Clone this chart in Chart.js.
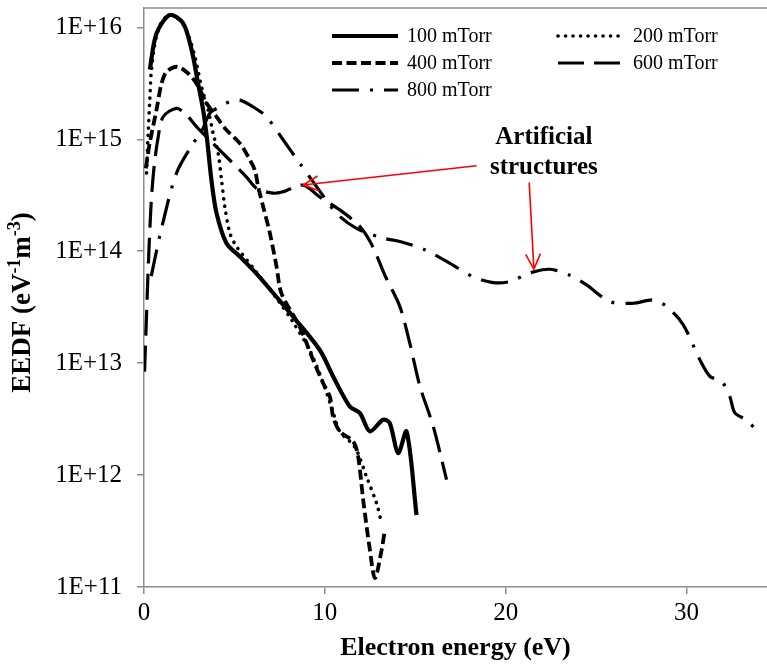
<!DOCTYPE html>
<html>
<head>
<meta charset="utf-8">
<script src="https://cdn.jsdelivr.net/npm/chart.js@4"></script>
<style>
  html, body { margin: 0; padding: 0; background: #ffffff; }
  #wrap { width: 767px; height: 666px; }
</style>
</head>
<body>
<div id="wrap"><canvas id="eedf"></canvas></div>
<script>
// EEDF vs electron energy, five pressures.
const energy100 = [0.32, 0.69, 1.43, 2.16, 2.63, 2.99, 3.27, 3.49, 3.73, 4.01, 4.56, 5.3, 6.22, 7.33, 8.25, 9.72, 10.46, 11.38, 11.94, 12.49, 13.22, 13.59, 14.05, 14.52, 15.07];
const eedf100 = [4.2e15, 8.8e15, 1.29e16, 1.09e16, 6.3e15, 3.16e15, 1.83e15, 9.9e14, 4.3e14, 2.19e14, 1.18e14, 8.96e13, 6.3e13, 3.9e13, 2.6e13, 1.31e13, 7.6e12, 4.1e12, 3.58e12, 2.46e12, 3.12e12, 2.91e12, 1.57e12, 2.45e12, 4.4e11];

const energy200 = [0.14, 0.23, 0.32, 0.41, 0.69, 1.04, 1.59, 2.26, 2.81, 3.18, 3.55, 3.82, 4.1, 4.29, 4.47, 4.75, 5.12, 6.22, 7.33, 8.23, 9.17, 9.89, 10.44, 10.83, 11.38, 11.75, 12.3, 12.86, 13.14];
const eedf200 = [5.0e14, 1.13e15, 2.24e15, 4.16e15, 8.4e15, 1.16e16, 1.29e16, 1.01e16, 5.5e15, 2.95e15, 1.83e15, 1.13e15, 7.5e14, 4.3e14, 2.5e14, 1.45e14, 1.1e14, 6.5e13, 3.8e13, 2.34e13, 1.3e13, 6.8e12, 3.7e12, 2.45e12, 2.0e12, 1.68e12, 9.7e11, 5.6e11, 3.7e11];

const energy400 = [0.1, 0.32, 0.69, 0.97, 1.24, 1.8, 2.35, 2.9, 3.46, 4.01, 4.56, 5.3, 5.76, 6.13, 6.31, 6.59, 6.96, 7.33, 7.6, 8.62, 9.35, 9.91, 10.28, 10.46, 10.83, 11.57, 11.84, 12.12, 12.49, 12.77, 13.14, 13.32];
const eedf400 = [5.5e14, 9.3e14, 1.83e15, 3.16e15, 4.0e15, 4.45e15, 4.0e15, 3.16e15, 2.1e15, 1.59e15, 1.21e15, 9.2e14, 7.0e14, 5.3e14, 3.78e14, 2.5e14, 1.45e14, 7.3e13, 4.2e13, 2.1e13, 1.07e13, 6.6e12, 5.0e12, 3.3e12, 2.45e12, 2.0e12, 1.47e12, 6.0e11, 2.15e11, 1.2e11, 2.15e11, 3.25e11];

const energy600 = [0.03, 0.14, 0.25, 0.39, 0.54, 0.76, 1.06, 1.8, 2.35, 2.9, 3.82, 4.75, 5.67, 6.22, 7.14, 7.69, 8.8, 9.72, 10.83, 11.94, 12.6, 13.32, 14.15, 14.7, 15.26, 16.0, 16.73];
const eedf600 = [8.4e12, 2.7e13, 8.3e13, 2.6e14, 5.3e14, 9.9e14, 1.59e15, 1.89e15, 1.65e15, 1.3e15, 9.2e14, 6.5e14, 4.6e14, 3.65e14, 3.3e14, 3.4e14, 3.9e14, 3.05e14, 2.34e14, 1.66e14, 1.14e14, 6.1e13, 3.2e13, 1.5e13, 6.2e12, 2.7e12, 9.1e11];

const energy800 = [0.4, 0.97, 1.8, 2.72, 3.18, 3.64, 4.19, 4.75, 5.3, 6.03, 6.77, 7.69, 8.62, 9.54, 10.65, 11.75, 13.22, 14.15, 15.53, 16.92, 18.2, 19.31, 20.23, 21.34, 22.45, 23.55, 24.47, 25.76, 27.05, 28.16, 28.9, 29.82, 30.74, 31.3, 31.94, 32.4, 32.67, 33.32, 33.88];
const eedf800 = [6.0e13, 1.6e14, 5.0e14, 9.2e14, 1.17e15, 1.71e15, 1.95e15, 2.17e15, 2.24e15, 1.95e15, 1.59e15, 9.9e14, 6.1e14, 3.78e14, 2.18e14, 1.6e14, 1.31e14, 1.22e14, 1.03e14, 7.8e13, 5.9e13, 5.25e13, 5.36e13, 6.4e13, 6.9e13, 6.1e13, 5.0e13, 3.55e13, 3.43e13, 3.67e13, 3.2e13, 2.2e13, 1.07e13, 7.6e12, 6.9e12, 5.0e12, 3.6e12, 3.1e12, 2.5e12];

const seriesLabels = ['100 mTorr', '200 mTorr', '400 mTorr', '600 mTorr', '800 mTorr'];
const xTickValues = [0, 10, 20, 30];
const yTickValues = [1e11, 1e12, 1e13, 1e14, 1e15, 1e16];
const yTickLabels = ['1E+11', '1E+12', '1E+13', '1E+14', '1E+15', '1E+16'];

// Annotation: text anchor and arrows in data units.
const noteLines = ['Artificial', 'structures'];
const noteAnchor = { x: 22.11, y1: 1.04e15, y2: 5.6e14 };
const arrowTails = [[18.39, 5.8e14], [21.3, 4.1e14]];
const arrowTips = [[8.8, 3.9e14], [21.56, 6.9e13]];

const serif = "'Liberation Serif', 'Times New Roman', serif";
const axisGray = '#8c8c8c';

function pairs(xs, ys) {
  return xs.map((x, i) => ({ x: x, y: ys[i] }));
}

const styles = [
  { borderWidth: 4.2, borderDash: [], borderCapStyle: 'butt' },
  { borderWidth: 3.6, borderDash: [0.1, 7.4], borderCapStyle: 'round' },
  { borderWidth: 3.8, borderDash: [10, 4.5], borderCapStyle: 'butt' },
  { borderWidth: 3.2, borderDash: [26, 10], borderCapStyle: 'butt' },
  { borderWidth: 3.2, borderDash: [27, 11, 3, 11], borderCapStyle: 'butt' }
];

const allData = [
  pairs(energy100, eedf100),
  pairs(energy200, eedf200),
  pairs(energy400, eedf400),
  pairs(energy600, eedf600),
  pairs(energy800, eedf800)
];

const datasets = allData.map((d, i) => ({
  label: seriesLabels[i],
  data: d,
  showLine: true,
  borderColor: '#000000',
  backgroundColor: '#000000',
  borderWidth: styles[i].borderWidth,
  borderDash: styles[i].borderDash,
  borderCapStyle: styles[i].borderCapStyle,
  borderJoinStyle: 'round',
  pointRadius: 0,
  tension: 0.3
}));

// Legend drawn inside the plot, two columns like the original.
const innerLegend = {
  id: 'innerLegend',
  afterDraw(chart) {
    const ctx = chart.ctx;
    const cols = [332, 558];
    const rows = [36, 63, 90];
    ctx.save();
    ctx.font = '20px ' + serif;
    ctx.fillStyle = '#000';
    ctx.textBaseline = 'middle';
    chart.data.datasets.forEach((ds, i) => {
      const x = cols[i % 2];
      const y = rows[Math.floor(i / 2)];
      ctx.beginPath();
      ctx.setLineDash(ds.borderDash);
      ctx.lineCap = ds.borderCapStyle;
      ctx.lineWidth = ds.borderWidth;
      ctx.strokeStyle = ds.borderColor;
      ctx.moveTo(x, y);
      ctx.lineTo(x + 66, y);
      ctx.stroke();
      ctx.setLineDash([]);
      ctx.fillText(ds.label, x + 75, y + 1);
    });
    ctx.restore();
  }
};

// Top frame line, y-axis title with superscripts, red annotation.
const extras = {
  id: 'extras',
  afterDraw(chart) {
    const ctx = chart.ctx;
    const area = chart.chartArea;
    const xs = chart.scales.x;
    const ys = chart.scales.y;
    ctx.save();

    ctx.strokeStyle = axisGray;
    ctx.lineWidth = 1.5;
    ctx.beginPath();
    ctx.moveTo(area.left, area.top);
    ctx.lineTo(area.right, area.top);
    ctx.stroke();

    // y title
    const parts = [
      ['EEDF (eV', false], ['-1', true], ['m', false], ['-3', true], [')', false]
    ];
    const big = 'bold 27px ' + serif;
    const small = 'bold 18px ' + serif;
    let total = 0;
    parts.forEach((p) => {
      ctx.font = p[1] ? small : big;
      total += ctx.measureText(p[0]).width;
    });
    ctx.translate(23, (area.top + area.bottom) / 2 + 5);
    ctx.rotate(-Math.PI / 2);
    ctx.fillStyle = '#000';
    ctx.textBaseline = 'middle';
    let cx = -total / 2;
    parts.forEach((p) => {
      ctx.font = p[1] ? small : big;
      ctx.fillText(p[0], cx, p[1] ? -8 : 0);
      cx += ctx.measureText(p[0]).width;
    });
    ctx.setTransform(1, 0, 0, 1, 0, 0);

    // annotation text
    ctx.font = 'bold 25px ' + serif;
    ctx.textAlign = 'center';
    ctx.textBaseline = 'middle';
    const tx = xs.getPixelForValue(noteAnchor.x);
    ctx.fillText(noteLines[0], tx, ys.getPixelForValue(noteAnchor.y1));
    ctx.fillText(noteLines[1], tx, ys.getPixelForValue(noteAnchor.y2));

    // arrows
    ctx.strokeStyle = '#ff0000';
    ctx.lineWidth = 1.6;
    arrowTips.forEach((tip, i) => {
      const x0 = xs.getPixelForValue(arrowTails[i][0]);
      const y0 = ys.getPixelForValue(arrowTails[i][1]);
      const x1 = xs.getPixelForValue(tip[0]);
      const y1 = ys.getPixelForValue(tip[1]);
      const ang = Math.atan2(y1 - y0, x1 - x0);
      const head = 17;
      ctx.beginPath();
      ctx.moveTo(x0, y0);
      ctx.lineTo(x1, y1);
      ctx.moveTo(x1 - head * Math.cos(ang - 0.45), y1 - head * Math.sin(ang - 0.45));
      ctx.lineTo(x1, y1);
      ctx.lineTo(x1 - head * Math.cos(ang + 0.45), y1 - head * Math.sin(ang + 0.45));
      ctx.stroke();
    });
    ctx.restore();
  }
};

new Chart(document.getElementById('eedf'), {
  type: 'scatter',
  data: { datasets: datasets },
  plugins: [innerLegend, extras],
  options: {
    responsive: true,
    maintainAspectRatio: false,
    animation: false,
    layout: { padding: { top: 8, right: 0, left: 0, bottom: 0 } },
    plugins: {
      legend: { display: false },
      tooltip: { enabled: false }
    },
    scales: {
      x: {
        type: 'linear',
        min: 0,
        max: 34.45,
        afterBuildTicks(scale) {
          scale.ticks = xTickValues.map((v) => ({ value: v }));
        },
        afterFit(scale) {
          scale.height = 79;
          scale.paddingLeft = 0;
          scale.paddingRight = 0;
        },
        ticks: {
          color: '#000',
          font: { family: serif, size: 25 },
          padding: 4,
          maxRotation: 0
        },
        grid: { drawOnChartArea: false, color: axisGray, tickLength: 7, lineWidth: 1.5 },
        border: { color: axisGray, width: 1.5 },
        title: {
          display: true,
          text: 'Electron energy (eV)',
          color: '#000',
          font: { family: serif, size: 26, weight: 'bold' },
          padding: { top: 0, bottom: 2 }
        }
      },
      y: {
        type: 'logarithmic',
        min: 1e11,
        max: 1.49e16,
        afterBuildTicks(scale) {
          scale.ticks = yTickValues.map((v) => ({ value: v }));
        },
        afterFit(scale) {
          scale.width = 144;
          scale.paddingTop = 0;
          scale.paddingBottom = 0;
        },
        ticks: {
          color: '#000',
          font: { family: serif, size: 25 },
          padding: 15,
          callback: (value) => {
            const k = yTickValues.indexOf(value);
            return k >= 0 ? yTickLabels[k] : '';
          }
        },
        grid: { drawOnChartArea: false, color: axisGray, tickLength: 7, lineWidth: 1.5 },
        border: { color: axisGray, width: 1.5 }
      }
    }
  }
});
</script>
</body>
</html>
